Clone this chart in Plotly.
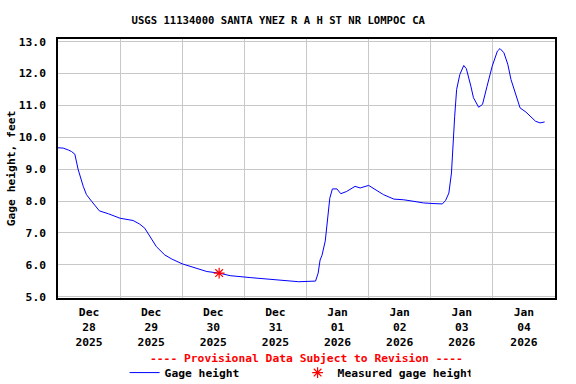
import plotly.graph_objects as go

times = [
    "2025-12-28 00:00", "2025-12-28 02:00", "2025-12-28 04:00", "2025-12-28 05:15",
    "2025-12-28 06:30", "2025-12-28 07:45", "2025-12-28 09:45", "2025-12-28 11:00",
    "2025-12-28 13:00", "2025-12-28 16:00", "2025-12-28 19:30", "2025-12-29 00:00",
    "2025-12-29 05:00", "2025-12-29 07:30", "2025-12-29 09:30", "2025-12-29 11:30",
    "2025-12-29 14:00", "2025-12-29 17:15", "2025-12-29 20:00", "2025-12-30 00:00",
    "2025-12-30 04:15", "2025-12-30 09:30", "2025-12-30 14:15", "2025-12-30 18:30",
    "2025-12-31 02:15", "2025-12-31 08:30", "2025-12-31 15:00", "2025-12-31 21:00",
    "2026-01-01 03:30", "2026-01-01 04:30", "2026-01-01 05:15", "2026-01-01 06:00",
    "2026-01-01 07:15", "2026-01-01 08:00", "2026-01-01 09:00", "2026-01-01 10:00",
    "2026-01-01 11:45", "2026-01-01 13:15", "2026-01-01 15:30", "2026-01-01 18:45",
    "2026-01-01 20:45", "2026-01-02 00:00", "2026-01-02 03:15", "2026-01-02 05:45",
    "2026-01-02 09:45", "2026-01-02 13:30", "2026-01-02 17:30", "2026-01-02 21:15",
    "2026-01-03 01:15", "2026-01-03 04:30", "2026-01-03 05:45", "2026-01-03 07:00",
    "2026-01-03 08:00", "2026-01-03 08:30", "2026-01-03 09:15", "2026-01-03 10:00",
    "2026-01-03 11:15", "2026-01-03 12:45", "2026-01-03 13:45", "2026-01-03 15:30",
    "2026-01-03 16:30", "2026-01-03 18:30", "2026-01-03 20:00", "2026-01-03 21:45",
    "2026-01-03 23:45", "2026-01-04 01:45", "2026-01-04 02:45", "2026-01-04 04:15",
    "2026-01-04 05:45", "2026-01-04 07:00", "2026-01-04 08:45", "2026-01-04 10:30",
    "2026-01-04 12:45", "2026-01-04 14:30", "2026-01-04 16:30", "2026-01-04 18:15",
    "2026-01-04 20:00",
]
gage_height = [
    9.67, 9.66, 9.60, 9.55,
    9.47, 9.00, 8.46, 8.20,
    7.99, 7.69, 7.60, 7.46,
    7.39, 7.28, 7.15, 6.89,
    6.57, 6.31, 6.18, 6.03,
    5.92, 5.79, 5.74, 5.66,
    5.60, 5.56, 5.50, 5.47,
    5.49, 5.74, 6.15, 6.30,
    6.75, 7.35, 8.09, 8.38,
    8.38, 8.23, 8.30, 8.46,
    8.41, 8.49, 8.32, 8.20,
    8.06, 8.04, 7.99, 7.94,
    7.92, 7.91, 8.02, 8.25,
    8.88, 9.72, 10.66, 11.50,
    11.97, 12.25, 12.15, 11.60,
    11.24, 10.94, 11.03, 11.60,
    12.23, 12.70, 12.78, 12.65,
    12.29, 11.81, 11.34, 10.92,
    10.79, 10.64, 10.50, 10.45,
    10.48,
]
measured_times = ["2025-12-30 14:15"]
measured_values = [5.74]

title_text = "USGS 11134000 SANTA YNEZ R A H ST NR LOMPOC CA"
y_title = "Gage height, feet"
provisional = "---- Provisional Data Subject to Revision ----"

FONT = "DejaVu Sans Mono"

fig = go.Figure()
fig.add_trace(go.Scatter(
    x=times, y=gage_height, mode="lines", name="Gage height",
    line=dict(color="#0000ff", width=1),
))
fig.add_trace(go.Scatter(
    x=measured_times, y=measured_values, mode="markers", name="Measured gage height",
    marker=dict(symbol="asterisk-open", size=9, color="#ff0000",
                line=dict(color="#ff0000", width=1.2)),
))

fig.update_layout(
    width=576, height=384,
    margin=dict(l=58, r=21, t=39, b=86, autoexpand=False),
    paper_bgcolor="white", plot_bgcolor="white",
    font=dict(family=FONT, size=11.3, color="black", weight="bold"),
    title=dict(text=title_text, x=0.483, xanchor="center", y=0.948, yanchor="middle",
               yref="container", font=dict(family=FONT, size=10.6, color="black", weight="bold")),
    showlegend=True,
    legend=dict(orientation="h", x=0.134, xanchor="left", y=-0.288, yanchor="middle",
                font=dict(family=FONT, size=11.3, color="black", weight="bold"),
                entrywidth=128, entrywidthmode="pixels", bgcolor="rgba(0,0,0,0)"),
    annotations=[dict(text=provisional, xref="paper", yref="paper", x=0.5, y=-0.2355,
                      xanchor="center", yanchor="middle", showarrow=False,
                      font=dict(family=FONT, size=11.3, color="#ff0000", weight="bold"))],
)
fig.update_xaxes(
    type="date", range=["2025-12-28 00:00", "2026-01-05 00:00"],
    dtick=86400000, tick0="2025-12-28", ticklabelmode="period",
    tickformat="%b<br>%d<br>%Y", showgrid=True, gridcolor="#c8c8c8", gridwidth=1,
    showline=True, linecolor="black", linewidth=1.5, mirror=True,
    ticks="", ticklabelstandoff=3, zeroline=False, automargin=False,
)
fig.update_yaxes(
    range=[4.96, 13.08], tickvals=[5, 6, 7, 8, 9, 10, 11, 12, 13], tickformat=".1f",
    showgrid=True, gridcolor="#c8c8c8", gridwidth=1,
    showline=True, linecolor="black", linewidth=1.5, mirror=True,
    ticks="", ticklabelstandoff=8, zeroline=False, automargin=False,
    title=dict(text=y_title, standoff=1, font=dict(family=FONT, size=11.3, weight="bold")),
)

fig.write_html("out.html", config={"displayModeBar": False},
               post_script="document.body.style.margin='0';")
